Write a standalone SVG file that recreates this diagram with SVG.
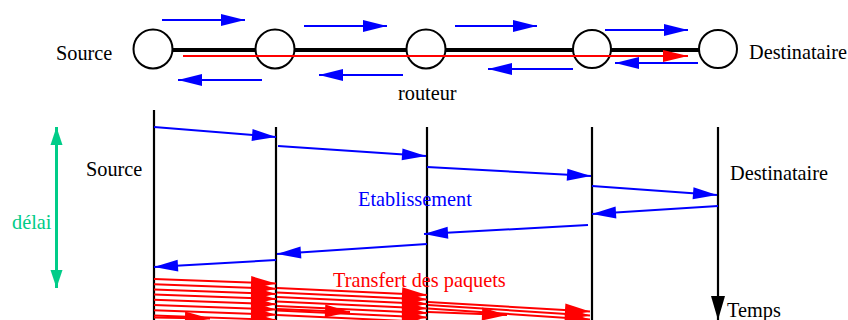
<svg xmlns="http://www.w3.org/2000/svg" width="848" height="320" viewBox="0 0 848 320">
<defs>
<style>
text{font-family:"Liberation Serif","Times New Roman",serif;font-size:20.3px}
.blk{fill:#000}
.blu{stroke:#0000ff;stroke-width:2;fill:none}
.red{stroke:#ff0000;stroke-width:2;fill:none}
.life{stroke:#000;stroke-width:2.2;fill:none}
.router{fill:#fff;stroke:#000;stroke-width:2}
.ab{marker-end:url(#hb)}
.ar{marker-end:url(#hr)}
</style>
<marker id="hb" markerUnits="userSpaceOnUse" markerWidth="24" markerHeight="12" refX="24" refY="6" orient="auto" overflow="visible"><path d="M0,0 L24,6 L0,12 z" fill="#0000ff"/></marker>
<marker id="hr" markerUnits="userSpaceOnUse" markerWidth="25" markerHeight="13" refX="25" refY="6.5" orient="auto" overflow="visible"><path d="M0,0 L25,6.5 L0,13 z" fill="#ff0000"/></marker>
<marker id="hrbig" markerUnits="userSpaceOnUse" markerWidth="25" markerHeight="12" refX="25" refY="6" orient="auto" overflow="visible"><path d="M0,0 L25,6 L0,12 z" fill="#ff0000"/></marker>
<marker id="hk" markerUnits="userSpaceOnUse" markerWidth="14" markerHeight="24" refX="24" refY="7" orient="auto" overflow="visible"><path d="M0,0 L24,7 L0,14 z" fill="#000"/></marker>
<marker id="hg" markerUnits="userSpaceOnUse" markerWidth="18" markerHeight="12" refX="18" refY="6" orient="auto-start-reverse" overflow="visible"><path d="M0,0 L18,6 L0,12 z" fill="#00cc88"/></marker>
</defs>
<rect width="848" height="320" fill="#fff"/>

<!-- top network -->
<g id="links">
<line x1="173" y1="50" x2="707" y2="50" stroke="#000" stroke-width="4"/>
</g>
<g id="r-source"><circle class="router" cx="153" cy="49" r="19.5"/></g>
<g id="r1"><circle class="router" cx="275" cy="49" r="19.5"/></g>
<g id="r2"><circle class="router" cx="426" cy="49" r="19.5"/></g>
<g id="r3"><circle class="router" cx="592" cy="49" r="19"/></g>
<g id="r-dest"><circle class="router" cx="718" cy="49" r="19"/></g>

<g id="top-labels">
<text x="56" y="60" class="blk">Source</text>
<text x="749" y="59" class="blk">Destinataire</text>
<text x="398" y="100" class="blk">routeur</text>
</g>

<g id="top-connectors">
<line x1="183" y1="56" x2="688" y2="56" class="red" style="marker-end:url(#hrbig)"/>
<line x1="162" y1="20" x2="245" y2="20" class="blu ab"/>
<line x1="304" y1="26" x2="387" y2="26" class="blu ab"/>
<line x1="455" y1="26" x2="537" y2="26" class="blu ab"/>
<line x1="605" y1="30" x2="688" y2="30" class="blu ab"/>
<line x1="262" y1="80" x2="178" y2="80" class="blu ab"/>
<line x1="403" y1="75" x2="319" y2="75" class="blu ab"/>
<line x1="573" y1="69" x2="488" y2="69" class="blu ab"/>
<line x1="698" y1="63" x2="615" y2="63" class="blu ab"/>
</g>

<!-- lifelines -->
<g id="life-source"><line x1="154" y1="110" x2="154" y2="320" class="life"/></g>
<g id="life-r1"><line x1="276" y1="127" x2="276" y2="320" class="life"/></g>
<g id="life-r2"><line x1="427" y1="127" x2="427" y2="320" class="life"/></g>
<g id="life-r3"><line x1="592" y1="127" x2="592" y2="320" class="life"/></g>
<g id="life-dest"><line x1="718" y1="127" x2="718" y2="320" stroke="#000" stroke-width="2.2" marker-end="url(#hk)"/></g>

<g id="bottom-labels">
<text x="86" y="176" class="blk">Source</text>
<text x="730" y="180" class="blk">Destinataire</text>
<text x="727" y="317" class="blk">Temps</text>
<text x="358" y="206" fill="#0000ff">Etablissement</text>
<text x="12" y="229" fill="#00cc88">délai</text>
<text x="333" y="287" fill="#ff0000">Transfert des paquets</text>
</g>

<g id="delay">
<line x1="56.5" y1="127" x2="56.5" y2="288" stroke="#00cc88" stroke-width="3" marker-start="url(#hg)" marker-end="url(#hg)"/>
</g>

<g id="connectors">
<line x1="154" y1="127" x2="276" y2="137" class="blu ab"/>
<line x1="278" y1="146" x2="426" y2="156" class="blu ab"/>
<line x1="427" y1="167" x2="591" y2="176" class="blu ab"/>
<line x1="592" y1="186" x2="717" y2="195" class="blu ab"/>
<line x1="718" y1="206" x2="592" y2="214" class="blu ab"/>
<line x1="588" y1="225" x2="424" y2="234" class="blu ab"/>
<line x1="427" y1="244" x2="277" y2="254" class="blu ab"/>
<line x1="276" y1="260" x2="154" y2="267" class="blu ab"/>

<!-- packets hop 1 -->
<line x1="154" y1="279" x2="276" y2="283.5" class="red ar"/>
<line x1="154" y1="284.2" x2="276" y2="288.7" class="red ar"/>
<line x1="154" y1="289.4" x2="276" y2="293.9" class="red ar"/>
<line x1="154" y1="294.6" x2="276" y2="299.1" class="red ar"/>
<line x1="154" y1="299.8" x2="276" y2="304.3" class="red ar"/>
<line x1="154" y1="305" x2="276" y2="309.5" class="red ar"/>
<line x1="154" y1="310.2" x2="276" y2="314.7" class="red ar"/>
<line x1="154" y1="315.4" x2="276" y2="319.9" class="red ar"/>
<line x1="154" y1="317.5" x2="210" y2="318.5" class="red ar"/>
<!-- packets hop 2 -->
<line x1="277" y1="288" x2="427" y2="295" class="red ar"/>
<line x1="277" y1="292.5" x2="427" y2="299.5" class="red ar"/>
<line x1="277" y1="297" x2="427" y2="304" class="red ar"/>
<line x1="277" y1="301.5" x2="427" y2="308.5" class="red ar"/>
<line x1="277" y1="306" x2="427" y2="313" class="red ar"/>
<line x1="277" y1="310.5" x2="427" y2="317.5" class="red ar"/>
<line x1="277" y1="315" x2="427" y2="322" class="red ar"/>
<line x1="277" y1="309" x2="350" y2="312" class="red ar"/>
<!-- packets hop 3 -->
<line x1="428" y1="302" x2="590" y2="311.5" class="red ar"/>
<line x1="428" y1="305" x2="590" y2="315.5" class="red ar"/>
<line x1="428" y1="308.5" x2="590" y2="319.5" class="red ar"/>
<line x1="428" y1="312" x2="507" y2="315" class="red ar"/>
</g>
</svg>
